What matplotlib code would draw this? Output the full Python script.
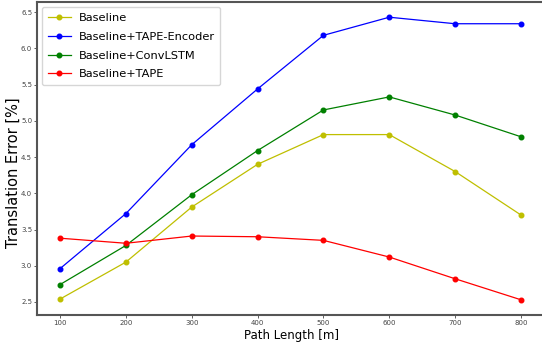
import numpy as np
import matplotlib
matplotlib.use('Agg')
from matplotlib import pyplot as plt

path_length = [100, 200, 300, 400, 500, 600, 700, 800]
baseline = [2.54, 3.05, 3.81, 4.40, 4.81, 4.81, 4.30, 3.70]
tape_encoder = [2.96, 3.72, 4.67, 5.44, 6.18, 6.43, 6.34, 6.34]
convlstm = [2.74, 3.28, 3.98, 4.59, 5.15, 5.33, 5.08, 4.78]
tape = [3.38, 3.31, 3.41, 3.40, 3.35, 3.12, 2.82, 2.53]

series = [
    ('Baseline', baseline, 'y'),
    ('Baseline+TAPE-Encoder', tape_encoder, 'b'),
    ('Baseline+ConvLSTM', convlstm, 'g'),
    ('Baseline+TAPE', tape, 'r'),
]

fig = plt.figure(figsize=(5.42, 3.45), dpi=100)
ax = fig.add_axes([37 / 542, 30 / 345, 509 / 542, 313 / 345])

for nombre, valores, color in series:
    ax.plot(path_length, valores, color=color, marker='o', markersize=3.3,
            linewidth=0.9, label=nombre)

ax.set_xlim(65, 838)
ax.set_ylim(2.32, 6.64)
ax.set_xticks(path_length)
ax.set_yticks(np.arange(2.5, 6.51, 0.5))
ax.tick_params(labelsize=5, length=2, width=0.6, pad=1.5, colors='#444444')
for lado in ['left', 'bottom', 'top', 'right']:
    ax.spines[lado].set_color('#555555')
    ax.spines[lado].set_linewidth(1.5)

ax.set_xlabel('Path Length [m]', fontsize=8.5)
ax.xaxis.set_label_coords(0.5, -0.045)
ax.set_ylabel('Translation Error [%]', fontsize=10.5)
ax.yaxis.set_label_coords(-0.031, 0.455)
ax.legend(loc='upper left', fontsize=8.2, handlelength=2.0,
          borderpad=0.5, labelspacing=0.78, handletextpad=0.7,
          borderaxespad=0.45)

fig.savefig('out.png', dpi=100)
